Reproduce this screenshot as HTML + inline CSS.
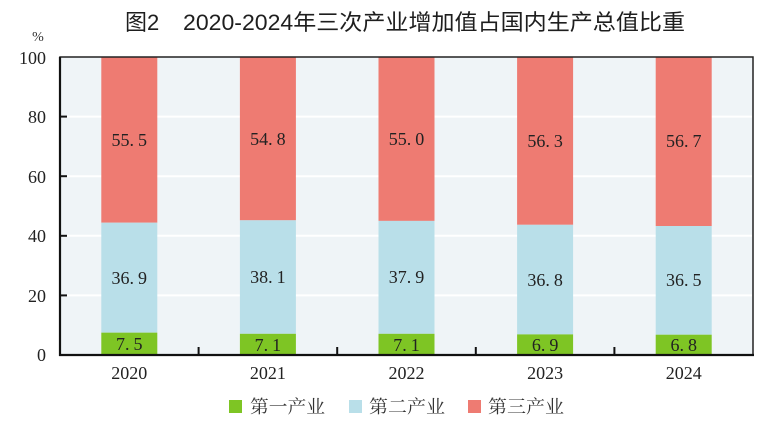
<!DOCTYPE html>
<html><head><meta charset="utf-8"><style>
html,body{margin:0;padding:0;background:#fff;}
svg{display:block;}
</style></head><body>
<svg width="768" height="445" viewBox="0 0 768 445" xmlns="http://www.w3.org/2000/svg">
<rect x="0" y="0" width="768" height="445" fill="#fff"/>
<text x="125" y="30" font-family="'Liberation Sans','Noto Sans CJK SC',sans-serif" font-size="22" font-weight="normal" fill="#1e1e1e">图2<tspan x="183" textLength="502" lengthAdjust="spacingAndGlyphs">2020-2024年三次产业增加值占国内生产总值比重</tspan></text>
<text x="38" y="41" font-family="'Liberation Serif',serif" font-size="14" fill="#333" text-anchor="middle">%</text>
<rect x="60" y="57" width="693" height="298" fill="#eff4f7"/>
<g stroke="#fff" stroke-width="2">
<line x1="61" y1="116.6" x2="752" y2="116.6"/>
<line x1="61" y1="176.2" x2="752" y2="176.2"/>
<line x1="61" y1="235.8" x2="752" y2="235.8"/>
<line x1="61" y1="295.4" x2="752" y2="295.4"/>
</g>
<g font-family="'Liberation Serif',serif" font-size="18" fill="#222" text-anchor="end">
<text x="46" y="64">100</text>
<text x="46" y="123">80</text>
<text x="46" y="183">60</text>
<text x="46" y="242">40</text>
<text x="46" y="302">20</text>
<text x="46" y="361">0</text>
</g>
<!-- bars -->
<g>
<rect x="101.3" y="57" width="56" height="165.7" fill="#ee7b72"/>
<rect x="101.3" y="222.7" width="56" height="109.95" fill="#b9dfe9"/>
<rect x="101.3" y="332.65" width="56" height="22.35" fill="#7ec524"/>

<rect x="239.9" y="57" width="56" height="163.3" fill="#ee7b72"/>
<rect x="239.9" y="220.3" width="56" height="113.5" fill="#b9dfe9"/>
<rect x="239.9" y="333.8" width="56" height="21.2" fill="#7ec524"/>

<rect x="378.5" y="57" width="56" height="163.9" fill="#ee7b72"/>
<rect x="378.5" y="220.9" width="56" height="112.9" fill="#b9dfe9"/>
<rect x="378.5" y="333.8" width="56" height="21.2" fill="#7ec524"/>

<rect x="517.1" y="57" width="56" height="167.8" fill="#ee7b72"/>
<rect x="517.1" y="224.8" width="56" height="109.6" fill="#b9dfe9"/>
<rect x="517.1" y="334.4" width="56" height="20.6" fill="#7ec524"/>

<rect x="655.7" y="57" width="56" height="169" fill="#ee7b72"/>
<rect x="655.7" y="226" width="56" height="108.7" fill="#b9dfe9"/>
<rect x="655.7" y="334.7" width="56" height="20.3" fill="#7ec524"/>
</g>
<!-- frame -->
<rect x="60" y="57" width="693" height="298" fill="none" stroke="#222" stroke-width="1.5"/>
<line x1="60" y1="57" x2="60" y2="356" stroke="#111" stroke-width="2.2"/>
<line x1="59" y1="355" x2="754" y2="355" stroke="#111" stroke-width="2.2"/>
<g stroke="#111" stroke-width="2">
<line x1="60" y1="116.6" x2="67" y2="116.6"/>
<line x1="60" y1="176.2" x2="67" y2="176.2"/>
<line x1="60" y1="235.8" x2="67" y2="235.8"/>
<line x1="60" y1="295.4" x2="67" y2="295.4"/>
<line x1="198.6" y1="347" x2="198.6" y2="355"/>
<line x1="337.2" y1="347" x2="337.2" y2="355"/>
<line x1="475.8" y1="347" x2="475.8" y2="355"/>
<line x1="614.4" y1="347" x2="614.4" y2="355"/>
</g>
<!-- value labels -->
<g font-family="'Liberation Serif',serif" font-size="18" fill="#222" text-anchor="middle">
<text x="129.3" y="146">55.<tspan dx="4">5</tspan></text>
<text x="129.3" y="284">36.<tspan dx="4">9</tspan></text>
<text x="129.3" y="350">7.<tspan dx="4">5</tspan></text>

<text x="267.9" y="145">54.<tspan dx="4">8</tspan></text>
<text x="267.9" y="283">38.<tspan dx="4">1</tspan></text>
<text x="267.9" y="351">7.<tspan dx="4">1</tspan></text>

<text x="406.5" y="145">55.<tspan dx="4">0</tspan></text>
<text x="406.5" y="283">37.<tspan dx="4">9</tspan></text>
<text x="406.5" y="351">7.<tspan dx="4">1</tspan></text>

<text x="545.1" y="147">56.<tspan dx="4">3</tspan></text>
<text x="545.1" y="286">36.<tspan dx="4">8</tspan></text>
<text x="545.1" y="351">6.<tspan dx="4">9</tspan></text>

<text x="683.7" y="147">56.<tspan dx="4">7</tspan></text>
<text x="683.7" y="286">36.<tspan dx="4">5</tspan></text>
<text x="683.7" y="351">6.<tspan dx="4">8</tspan></text>
</g>
<!-- x labels -->
<g font-family="'Liberation Serif',serif" font-size="18" fill="#222" text-anchor="middle">
<text x="129.3" y="379">2020</text>
<text x="267.9" y="379">2021</text>
<text x="406.5" y="379">2022</text>
<text x="545.1" y="379">2023</text>
<text x="683.7" y="379">2024</text>
</g>
<!-- legend -->
<rect x="229" y="400" width="13" height="13" fill="#7ec524"/>
<rect x="349" y="400" width="13" height="13" fill="#b9dfe9"/>
<rect x="468" y="400" width="13" height="13" fill="#ee7b72"/>
<g font-family="'Liberation Serif','Noto Serif CJK SC',serif" font-size="18" fill="#333">
<text x="250" y="413" textLength="75" lengthAdjust="spacingAndGlyphs">第一产业</text>
<text x="369" y="413" textLength="76" lengthAdjust="spacingAndGlyphs">第二产业</text>
<text x="488" y="413" textLength="76" lengthAdjust="spacingAndGlyphs">第三产业</text>
</g>
</svg>
</body></html>
